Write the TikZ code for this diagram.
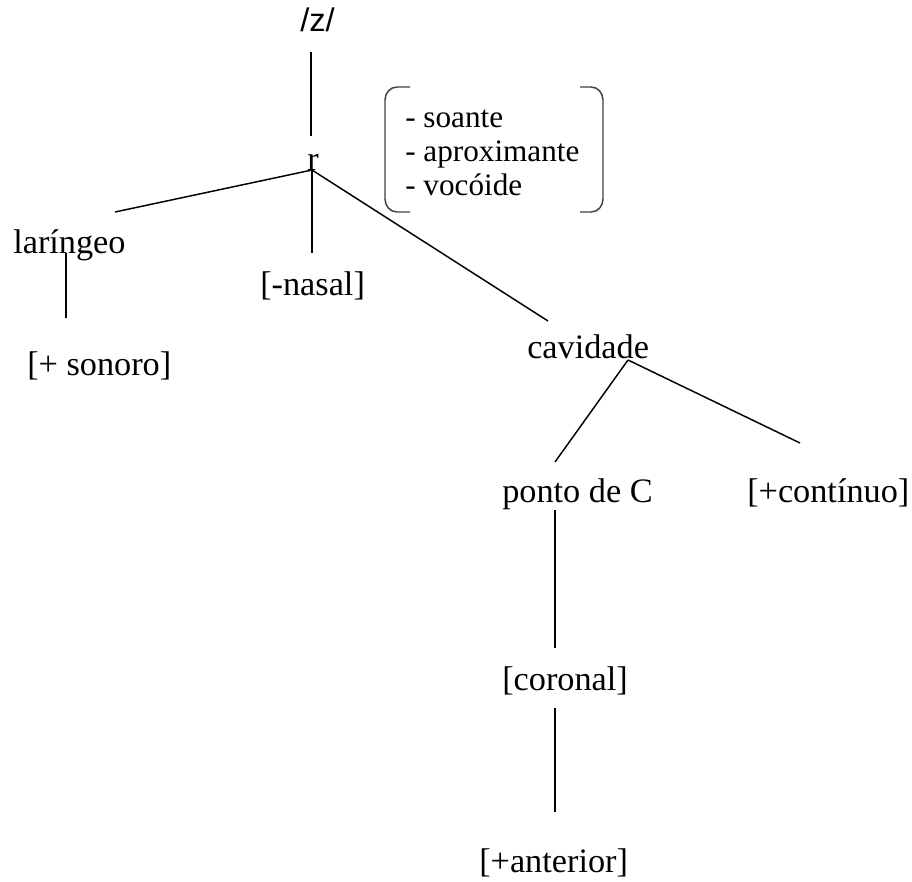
\documentclass[tikz,border=0pt]{standalone}
\usepackage{fontspec}
\setmainfont{Liberation Serif}
\newfontfamily\zsans{Liberation Sans}
\begin{document}
\begin{tikzpicture}[x=0.75pt,y=-0.75pt,
  lbl/.style={anchor=base west,inner sep=0pt,font=\fontsize{25.7}{30}\selectfont},
  boxlbl/.style={anchor=base west,inner sep=0pt,font=\fontsize{23.4}{28}\selectfont},
  edge/.style={line width=1.1pt,black},
  brk/.style={line width=1.1pt,black!75}]
\useasboundingbox (0,0) rectangle (912,881);
% nodes
\node[lbl,font=\zsans\fontsize{24.5}{30}\selectfont] (z) at (300,32) {/z/};
\node[lbl] (r) at (307,170) {r};
\node[lbl] (lar) at (13,253) {laríngeo};
\node[lbl] (nas) at (260,295) {[-nasal]};
\node[lbl] (son) at (27,375) {[+ sonoro]};
\node[lbl] (cav) at (527,358) {cavidade};
\node[lbl] (pon) at (502,502) {ponto de C};
\node[lbl] (con) at (747,502) {[+contínuo]};
\node[lbl] (cor) at (502,690) {[coronal]};
\node[lbl] (ant) at (479,872) {[+anterior]};
\node[boxlbl] (f1) at (405,127) {- soante};
\node[boxlbl] (f2) at (405,161) {- aproximante};
\node[boxlbl] (f3) at (405,195) {- vocóide};
% connector end points
\coordinate (zb) at (311,52);
\coordinate (rt) at (311,136);
\coordinate (rb) at (312,170);
\coordinate (lart) at (115,212);
\coordinate (nast) at (312,253);
\coordinate (cavt) at (548,321);
\coordinate (larb) at (66,253);
\coordinate (sont) at (66,318);
\coordinate (cavb) at (628,360);
\coordinate (pont) at (555,462);
\coordinate (cont) at (800,443);
\coordinate (ponb) at (555,510);
\coordinate (cort) at (555,648);
\coordinate (corb) at (555,708);
\coordinate (antt) at (555,812);
% connectors
\draw[edge] (zb) -- (rt);
\draw[edge] (rb) -- (lart);
\draw[edge] (rb) -- (nast);
\draw[edge] (rb) -- (cavt);
\draw[edge] (larb) -- (sont);
\draw[edge] (cavb) -- (pont);
\draw[edge] (cavb) -- (cont);
\draw[edge] (ponb) -- (cort);
\draw[edge] (corb) -- (antt);
% feature brackets
\draw[brk] (410,87) -- (397,87) to[out=180,in=90] (385,100) -- (385,199) to[out=-90,in=180] (397,212) -- (410,212);
\draw[brk] (580,87) -- (591,87) to[out=0,in=90] (603,100) -- (603,199) to[out=-90,in=0] (591,212) -- (580,212);
\end{tikzpicture}
\end{document}
